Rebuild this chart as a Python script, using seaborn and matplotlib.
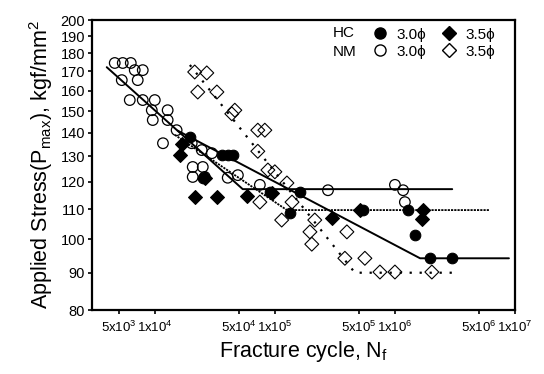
import matplotlib
matplotlib.use("Agg")
import matplotlib.pyplot as plt
from matplotlib.ticker import NullLocator, FixedLocator, FixedFormatter
from matplotlib.lines import Line2D
import seaborn as sns
import pandas as pd

sns.set_theme(style="white")
plt.rcParams['font.family'] = ['Liberation Sans', 'DejaVu Sans']
plt.rcParams['mathtext.fontset'] = 'custom'
plt.rcParams['mathtext.rm'] = 'Liberation Sans'
plt.rcParams['mathtext.it'] = 'Liberation Sans:italic'
plt.rcParams['mathtext.bf'] = 'Liberation Sans:bold'
plt.rcParams['text.color'] = 'black'
plt.rcParams['axes.labelcolor'] = 'black'
plt.rcParams['xtick.color'] = 'black'
plt.rcParams['ytick.color'] = 'black'

# ---------------- data ----------------
# HC 3.0 phi (filled circles)
hc30_n = [19600, 36100, 40500, 44700, 25100, 90800, 162000, 133000,
          541000, 1280000, 1470000, 1960000, 2990000]
hc30_s = [138.1, 130.5, 130.5, 130.5, 121.5, 116.1, 116.1, 108.7,
          109.7, 109.7, 101.4, 94.2, 94.2]

# HC 3.5 phi (filled diamonds)
hc35_n = [16200, 16900, 26100, 21500, 32900, 58500, 94400, 299000,
          511000, 1710000, 1670000]
hc35_s = [130.5, 135.0, 121.5, 114.3, 114.3, 114.6, 115.8, 107.0,
          109.7, 109.7, 106.7]

# NM 3.0 phi (open circles)
nm30_n = [4640, 5410, 6310, 6810, 7940, 5310, 7210, 6190, 7940, 10000,
          9440, 12800, 9620, 12800, 15200, 11700, 20300, 24600, 29900,
          20700, 25100, 20700, 26100, 40500, 49200, 75000, 277000,
          1000000, 1170000, 1210000]
nm30_s = [174.6, 174.6, 174.6, 170.7, 170.7, 165.4, 165.4, 155.3, 155.3, 155.3,
          150.4, 150.4, 145.8, 145.8, 141.2, 135.5, 135.5, 132.6, 131.3,
          125.7, 125.7, 121.8, 121.8, 121.5, 122.5, 118.8, 116.8,
          118.8, 116.8, 112.5]

# NM 3.5 phi (open diamonds)
nm35_n = [21500, 27100, 22800, 32900, 46400, 43800, 72100, 82500, 72100,
          87500, 100000, 126000, 75000, 139000, 114000, 215000, 196000,
          203000, 398000, 383000, 562000, 750000, 1000000, 2030000]
nm35_s = [169.7, 169.2, 159.3, 159.3, 150.4, 148.7, 141.2, 141.2, 132.1,
          124.5, 123.8, 119.5, 112.5, 112.5, 106.3, 106.3, 102.4,
          98.5, 102.4, 94.2, 94.2, 90.2, 90.2, 90.2]

# fitted S-N lines (start, knee, end)
fit_nm30_n = [3980, 54000, 3000000]
fit_nm30_s = [172.3, 117.2, 117.2]
fit_hc30_n = [15500, 1620000, 8900000]
fit_hc30_s = [141.0, 94.2, 94.2]
fit_hc35_n = [14700, 126000, 6070000]
fit_hc35_s = [139.1, 109.7, 109.7]
fit_nm35_n = [19600, 464000, 3300000]
fit_nm35_s = [173.5, 90.0, 90.0]

xtick_vals = [5e3, 1e4, 5e4, 1e5, 5e5, 1e6, 5e6, 1e7]
xtick_labels = ["5x10$^3$", "1x10$^4$", "5x10$^4$", "1x10$^5$",
                "5x10$^5$", "1x10$^6$", "5x10$^6$", "1x10$^7$"]
ytick_vals = [80, 90, 100, 110, 120, 130, 140, 150, 160, 170, 180, 190, 200]

# ---------------- figure ----------------
fig = plt.figure(figsize=(5.44, 3.74), dpi=100)
ax = fig.add_axes([92/544, 1 - 310/374, 423/544, 290/374])
ax.set_xscale('log')
ax.set_yscale('log')

def line(n, s, ls, lw=1.4):
    df = pd.DataFrame({'n': n, 's': s})
    sns.lineplot(data=df, x='n', y='s', sort=False, estimator=None,
                 color='black', lw=lw, linestyle=ls, ax=ax, zorder=2)

line(fit_nm30_n, fit_nm30_s, '-')
line(fit_hc30_n, fit_hc30_s, '-')
line(fit_hc35_n, fit_hc35_s, (0, (1.2, 0.6)), lw=1.3)
line(fit_nm35_n, fit_nm35_s, (0, (1, 3.5)), lw=1.6)

ms = 58
sns.scatterplot(x=hc30_n, y=hc30_s, marker='o', s=ms, color='black',
                edgecolor='black', linewidth=0.8, ax=ax, zorder=3)
sns.scatterplot(x=hc35_n, y=hc35_s, marker='D', s=ms - 8, color='black',
                edgecolor='black', linewidth=0.8, ax=ax, zorder=3)
sns.scatterplot(x=nm30_n, y=nm30_s, marker='o', s=ms, facecolor='none',
                edgecolor='black', linewidth=0.9, ax=ax, zorder=4)
sns.scatterplot(x=nm35_n, y=nm35_s, marker='D', s=ms - 8, facecolor='none',
                edgecolor='black', linewidth=0.8, ax=ax, zorder=4)

ax.set_xlim(3000, 1e7)
ax.set_ylim(80, 200)

ax.xaxis.set_major_locator(FixedLocator(xtick_vals))
ax.xaxis.set_major_formatter(FixedFormatter(xtick_labels))
ax.xaxis.set_minor_locator(NullLocator())
ax.yaxis.set_major_locator(FixedLocator(ytick_vals))
ax.yaxis.set_major_formatter(FixedFormatter([str(v) for v in ytick_vals]))
ax.yaxis.set_minor_locator(NullLocator())

ax.tick_params(axis='x', which='major', direction='out', length=3, width=1.2,
               labelsize=9.5, pad=4, bottom=True, colors='black')
ax.tick_params(axis='y', which='major', direction='out', length=3, width=1.2,
               labelsize=10.5, pad=2, left=True, colors='black')
for sp in ax.spines.values():
    sp.set_visible(True)
    sp.set_linewidth(1.6)
    sp.set_color('black')

ax.set_xlabel("Fracture cycle, N$_\\mathrm{f}$", fontsize=15.5, labelpad=3,
              color='black')
ax.set_ylabel("Applied Stress(P$_\\mathrm{max}$), kgf/mm$^2$", fontsize=15.5,
              labelpad=4, color='black')

# legend
h_hc30 = Line2D([], [], ls='none', marker='o', ms=8, mfc='black', mec='black')
h_nm30 = Line2D([], [], ls='none', marker='o', ms=8, mfc='none', mec='black')
h_hc35 = Line2D([], [], ls='none', marker='D', ms=7, mfc='black', mec='black')
h_nm35 = Line2D([], [], ls='none', marker='D', ms=7, mfc='none', mec='black')
leg = ax.legend([h_hc30, h_nm30, h_hc35, h_nm35],
                ["3.0ϕ", "3.0ϕ", "3.5ϕ", "3.5ϕ"], ncol=2, frameon=False,
                loc='upper left', bbox_to_anchor=(0.64, 1.005),
                handlelength=1.0, handletextpad=0.6, columnspacing=1.0,
                labelspacing=0.2, fontsize=11, borderaxespad=0.2)
for t in leg.get_texts():
    t.set_color('black')
ax.text(0.57, 0.955, "HC", transform=ax.transAxes, fontsize=11,
        va='center', ha='left', color='black')
ax.text(0.57, 0.89, "NM", transform=ax.transAxes, fontsize=11,
        va='center', ha='left', color='black')

fig.savefig("out.png", dpi=100)
